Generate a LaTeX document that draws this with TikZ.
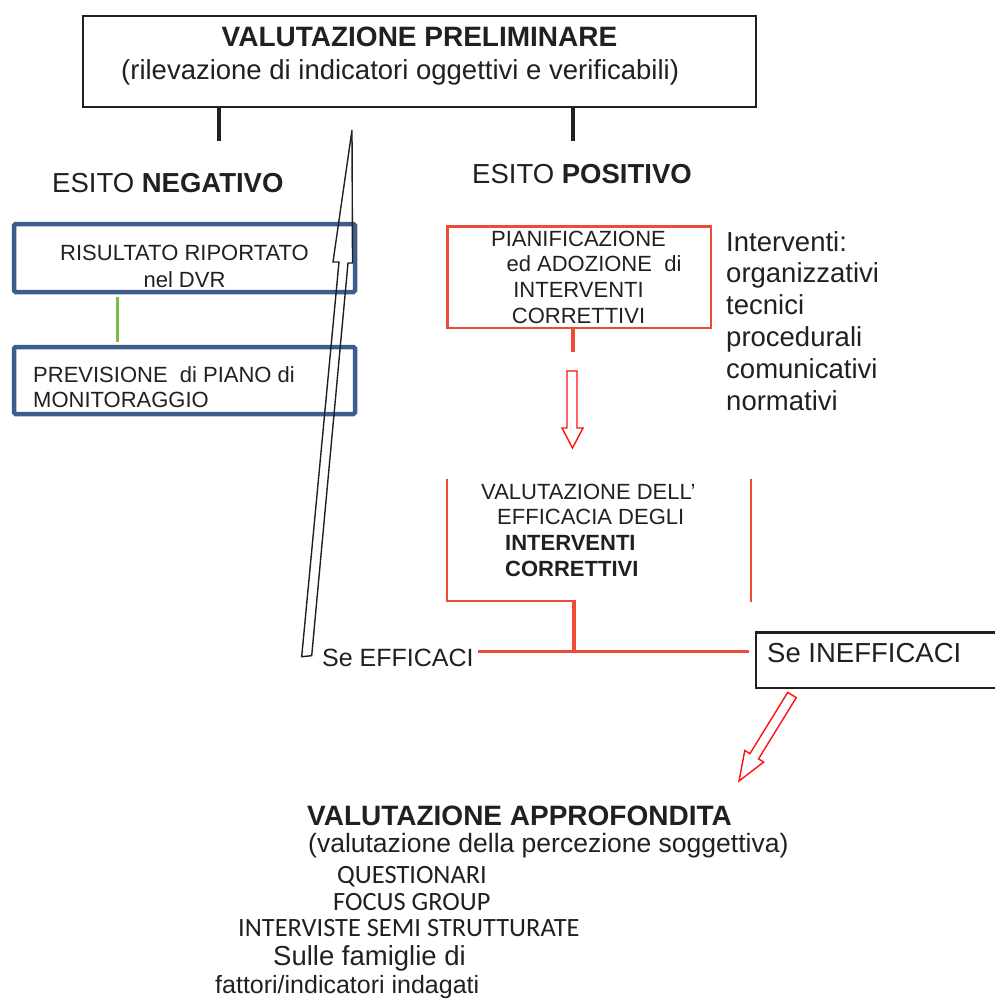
\documentclass[tikz,border=0pt]{standalone}
\usepackage{fontspec}
\setmainfont{Liberation Sans}
\newfontfamily\calibrifont{Carlito}
\definecolor{inkblack}{HTML}{231F20}
\definecolor{boxblue}{HTML}{3B5E8E}
\definecolor{linkgreen}{HTML}{76BD4A}
\definecolor{planred}{HTML}{EC4B37}
\definecolor{arrowred}{HTML}{FF1010}
\begin{document}
\begin{tikzpicture}[x=1pt, y=-1pt,
	every node/.style={inner sep=0pt, text=inkblack},
	titletext/.style={font=\bfseries\fontsize{28}{32}\selectfont},
	bigtext/.style={font=\fontsize{27.5}{31.8}\selectfont},
	boxtext/.style={font=\fontsize{22}{25.7}\selectfont},
	calitext/.style={font=\calibrifont\fontsize{26.4}{27}\selectfont},
	blackbox/.style={draw=inkblack, line width=2.3pt},
	bluebox/.style={draw=boxblue, line width=4.5pt, rounded corners=1.5pt, minimum width=341, minimum height=68},
	redbox/.style={draw=planred, line width=2.5pt},
	hollow/.style={line width=1.4pt, line join=miter}]
	\useasboundingbox (0,0) rectangle (994,1003);

	\node (prelim) [blackbox, minimum width=673, minimum height=91] at (419.5,61.5) {};
	\node (prelimtitle) [titletext, anchor=base] at (419.5,47) {VALUTAZIONE PRELIMINARE};
	\node (prelimsub) [bigtext, anchor=base west] at (121,80) {(rilevazione di indicatori oggettivi e verificabili)};
	\coordinate (negtick) at (219,141);
	\coordinate (postick) at (573,141);
	\draw [inkblack, line width=4.5pt] (prelim.south -| negtick) -- (negtick);
	\draw [inkblack, line width=4.5pt] (prelim.south -| postick) -- (postick);

	\node (negativo) [bigtext, anchor=base west] at (52,193) {ESITO \textbf{NEGATIVO}};
	\node (positivo) [bigtext, anchor=base west] at (472,183) {ESITO \textbf{POSITIVO}};

	\node (risultato) [bluebox] at (184.5,258) {};
	\node (previsione) [bluebox, minimum height=67] at (184.5,380.5) {};
	\node (risultatotext) [boxtext, anchor=base] at (184.5,260) {\begin{tabular}[t]{@{}c@{}}RISULTATO RIPORTATO\\[1.3pt] nel DVR\end{tabular}};
	\node (previsionetext) [boxtext, anchor=base west] at (33,382) {\begin{tabular}[t]{@{}l@{}}PREVISIONE\ \ di PIANO di\\ MONITORAGGIO\end{tabular}};
	\draw [linkgreen, line width=3pt] ([xshift=-67.5pt, yshift=-2.3pt]risultato.south) -- ([xshift=-67.5pt, yshift=2.3pt]previsione.north);

	\draw [hollow, inkblack] (352,130) -- (352.5,263) -- (348,263) -- (311.7,655.7) -- (301.7,656.7) -- (339,262) -- (333,262) -- cycle;

	\node (plan) [redbox, minimum width=263.5, minimum height=101.5] at (579,277) {};
	\node (plantext) [boxtext, anchor=base] at (578.5,246) {\begin{tabular}[t]{@{}c@{}}PIANIFICAZIONE\\ \hspace*{31pt}ed ADOZIONE\ \ di\\ INTERVENTI\\ CORRETTIVI\end{tabular}};
	\node (interventi) [bigtext, anchor=base west] at (726,251) {\begin{tabular}[t]{@{}l@{}}Interventi:\\ organizzativi\\ tecnici\\ procedurali\\ comunicativi\\ normativi\end{tabular}};
	\coordinate (plantick) at (573,352);
	\draw [planred, line width=4.3pt] (plan.south -| plantick) -- (plantick);
	\draw [hollow, arrowred] (567,371) -- (577,371) -- (577,428) -- (583,428) -- (572.5,448) -- (562,428) -- (567,428) -- cycle;

	\node (efficacia) [boxtext, anchor=base west] at (481,499) {\begin{tabular}[t]{@{}l@{}}VALUTAZIONE DELL’\\ \hspace*{16pt}EFFICACIA DEGLI\\ \hspace*{24pt}\textbf{INTERVENTI}\\ \hspace*{24pt}\textbf{CORRETTIVI}\end{tabular}};
	\coordinate (split) at (574,601);
	\coordinate (join) at (574,651);
	\draw [planred, line width=2pt] (447,479) -- (447,601) -- (split);
	\draw [planred, line width=1.2pt] (751,479) -- (751,602);
	\draw [planred, line width=4.3pt] ([yshift=1pt]split) -- (join);

	\node (efficaci) [font=\fontsize{25}{30}\selectfont, anchor=base west] at (322,666) {Se EFFICACI};
	\node (inefficaci) [blackbox, line width=2.5pt, minimum width=240.75, minimum height=55.5] at (876.6,660) {};
	\node (inefficacitext) [bigtext, anchor=base west] at (767,662) {Se INEFFICACI};
	\coordinate (effend) at ([xshift=4pt]efficaci.east);
	\coordinate (ineffend) at ([xshift=-6pt]inefficaci.west);
	\draw [planred, line width=3pt] (join -| effend) -- (join -| ineffend);
	\draw [hollow, arrowred] (787.7,692.4) -- (749.9,753.7) -- (744.8,750.5) -- (739,781) -- (763.6,762.1) -- (758.5,758.9) -- (796.3,697.6) -- cycle;

	\node (approfondita) [titletext, anchor=base west] at (307,825) {VALUTAZIONE APPROFONDITA};
	\node (percezione) [font=\fontsize{26.5}{30}\selectfont, anchor=base west] at (308,852) {(valutazione della percezione soggettiva)};
	\node (questionari) [calitext, anchor=base west] at (337,883) {QUESTIONARI};
	\node (focus) [calitext, anchor=base west] at (333,910) {FOCUS GROUP};
	\node (interviste) [calitext, anchor=base west] at (238,936) {INTERVISTE SEMI STRUTTURATE};
	\node (famiglie) [bigtext, anchor=base west] at (273,965) {Sulle famiglie di};
	\node (fattori) [font=\fontsize{25}{30}\selectfont, anchor=base west] at (215,993) {fattori/indicatori indagati};
\end{tikzpicture}
\end{document}
